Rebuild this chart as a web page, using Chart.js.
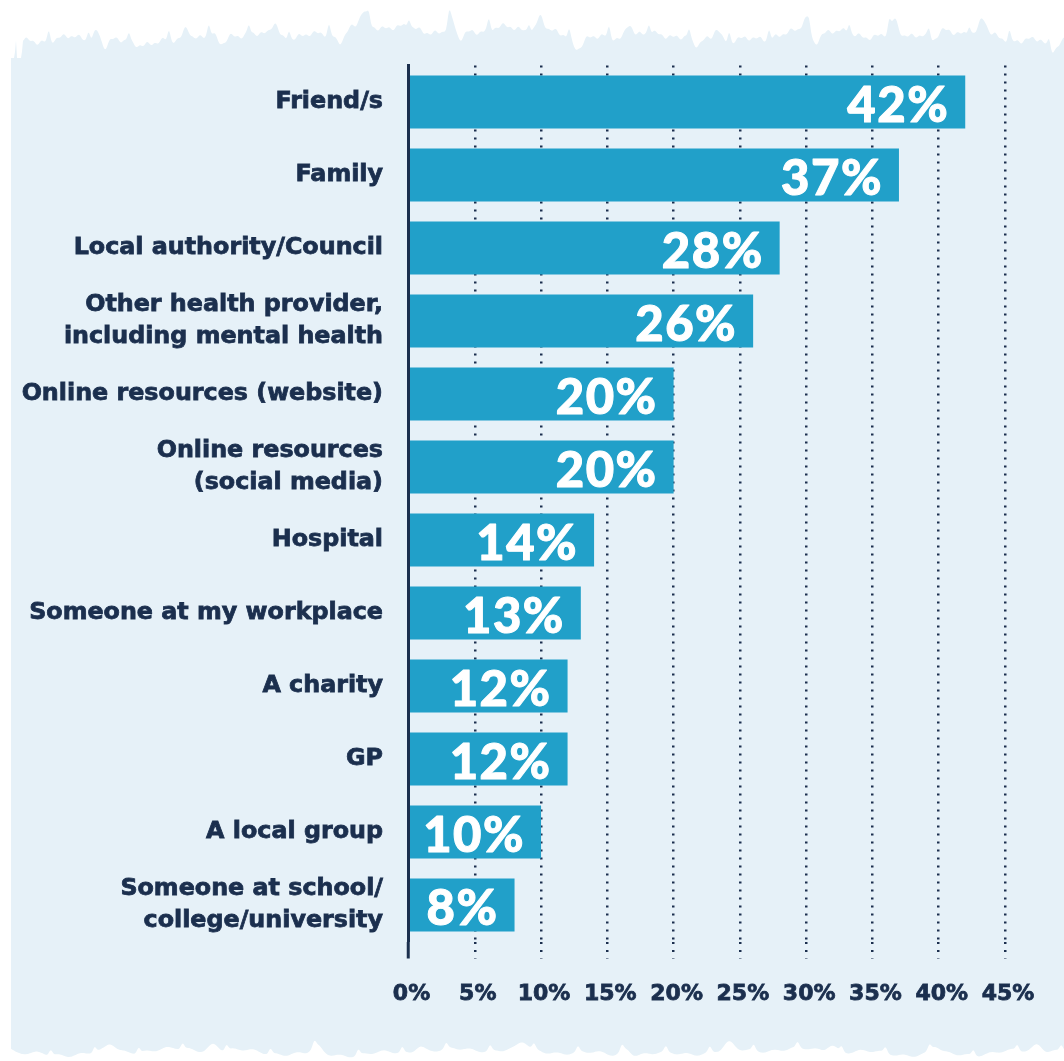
<!DOCTYPE html>
<html>
<head>
<meta charset="utf-8">
<script src="https://cdn.jsdelivr.net/npm/chart.js@4/dist/chart.umd.min.js"></script>
<style>
  html, body { margin: 0; padding: 0; background: #ffffff; }
  canvas { display: block; }
</style>
</head>
<body>
<canvas id="chart" width="1064" height="1061"></canvas>
<script>
// Where people turned for support (share of respondents)
const categories = [
  "Friend/s",
  "Family",
  "Local authority/Council",
  ["Other health provider,", "including mental health"],
  "Online resources (website)",
  ["Online resources", "(social media)"],
  "Hospital",
  "Someone at my workplace",
  "A charity",
  "GP",
  "A local group",
  ["Someone at school/", "college/university"]
];
const shares = [42, 37, 28, 26, 20, 20, 14, 13, 12, 12, 10, 8];
const axisTicks = [0, 5, 10, 15, 20, 25, 30, 35, 40, 45];

const NAVY = '#1b2f4e';
const BAR = '#21a0c9';
const PANEL = '#e6f1f8';
const LABEL_FONT = '"DejaVu Sans"';
const VALUE_FONT = 'Lato';

// Rough torn-paper edges for the background panel
function topEdge(x) {
  if (x < 24) return 58 - 22 * Math.pow(Math.max(0, Math.sin(x * 0.9)), 6);
  let y = 37 + 4 * Math.sin(x * 0.012 + 0.4) + 3 * Math.sin(x * 0.043 + 1.3)
        + 2.2 * Math.sin(x * 0.13 + 2.1) + 1.6 * Math.sin(x * 0.37 + 0.7)
        + 1.2 * Math.sin(x * 0.83 + 1.9);
  if (x > 300 && x < 720) y -= 7 * Math.sin((x - 300) / 420 * Math.PI);
  y -= 14 * Math.pow(Math.max(0, Math.sin(x * 0.071 + 0.9)), 16);
  y -= 9 * Math.pow(Math.max(0, Math.sin(x * 0.157 + 0.2)), 20);
  y += 10 * Math.pow(Math.max(0, Math.sin(x * 0.053 + 2.4)), 18);
  return y;
}
function bottomEdge(x) {
  let y = 1052 + 2.5 * Math.sin(x * 0.021 + 0.8) + 1.8 * Math.sin(x * 0.09 + 1.7)
        + 1.2 * Math.sin(x * 0.29 + 0.3);
  y -= 7 * Math.pow(Math.max(0, Math.sin(x * 0.061 + 1.1)), 12);
  y -= 5 * Math.pow(Math.max(0, Math.sin(x * 0.143 + 0.6)), 18);
  return y;
}

const panelPlugin = {
  id: 'panel',
  beforeDraw(chart) {
    const { ctx, width, height } = chart;
    ctx.save();
    ctx.fillStyle = '#ffffff';
    ctx.fillRect(0, 0, width, height);
    ctx.beginPath();
    const left = 11;
    ctx.moveTo(left, bottomEdge(left));
    ctx.lineTo(left, topEdge(left));
    for (let x = left; x <= width; x += 1) ctx.lineTo(x, topEdge(x));
    ctx.lineTo(width, topEdge(width));
    ctx.lineTo(width, bottomEdge(width));
    for (let x = width; x >= left; x -= 1) ctx.lineTo(x, bottomEdge(x));
    ctx.closePath();
    ctx.fillStyle = PANEL;
    ctx.fill();
    ctx.restore();
  }
};

// Percentage printed inside the end of each bar
const valueLabels = {
  id: 'valueLabels',
  afterDatasetsDraw(chart) {
    const { ctx } = chart;
    const meta = chart.getDatasetMeta(0);
    ctx.save();
    ctx.font = `900 49px ${VALUE_FONT}`;
    ctx.letterSpacing = '1.5px';
    ctx.fillStyle = '#ffffff';
    ctx.strokeStyle = '#ffffff';
    ctx.lineWidth = 1;
    ctx.lineJoin = 'round';
    ctx.textAlign = 'right';
    ctx.textBaseline = 'alphabetic';
    meta.data.forEach((bar, i) => {
      const txt = shares[i] + '%';
      ctx.strokeText(txt, bar.x - 16, bar.y + 19.5);
      ctx.fillText(txt, bar.x - 16, bar.y + 19.5);
    });
    ctx.restore();
  }
};

new Chart(document.getElementById('chart'), {
  type: 'bar',
  data: {
    labels: categories,
    datasets: [{
      data: shares,
      backgroundColor: BAR,
      borderWidth: 0,
      categoryPercentage: 1,
      barPercentage: 0.725
    }]
  },
  options: {
    indexAxis: 'y',
    responsive: false,
    animation: false,
    devicePixelRatio: 1,
    layout: { padding: { top: 65.5, bottom: 39.5, left: 0, right: 59 } },
    plugins: {
      legend: { display: false },
      tooltip: { enabled: false }
    },
    scales: {
      x: {
        type: 'linear',
        min: 0,
        max: 45,
        afterBuildTicks: s => { s.ticks = axisTicks.map(v => ({ value: v })); },
        afterFit: s => { s.height = 80; },
        grid: {
          color: c => c.index === 0 ? 'rgba(0,0,0,0)' : NAVY,
          lineWidth: 2.5,
          drawTicks: true,
          tickLength: 17,
          tickColor: NAVY,
          tickWidth: c => c.index === 0 ? 3 : 2.5,
          tickBorderDash: c => c.index === 0 ? [] : [2, 6]
        },
        border: { display: false, dash: [2, 6] },
        ticks: {
          color: NAVY,
          textStrokeColor: NAVY,
          textStrokeWidth: 0.8,
          padding: 23,
          labelOffset: 3,
          maxRotation: 0,
          autoSkip: false,
          font: { family: LABEL_FONT, weight: 'bold', size: 22 },
          callback: v => v + '%'
        }
      },
      y: {
        type: 'category',
        afterFit: s => { s.width = 408.5; },
        grid: { display: false, drawTicks: false },
        border: { display: true, color: NAVY, width: 3, z: 1 },
        ticks: {
          color: NAVY,
          textStrokeColor: NAVY,
          textStrokeWidth: 0.8,
          padding: 25.5,
          autoSkip: false,
          font: { family: LABEL_FONT, weight: 'bold', size: 23.8, lineHeight: 1.37 }
        }
      }
    }
  },
  plugins: [panelPlugin, valueLabels]
});
</script>
</body>
</html>
